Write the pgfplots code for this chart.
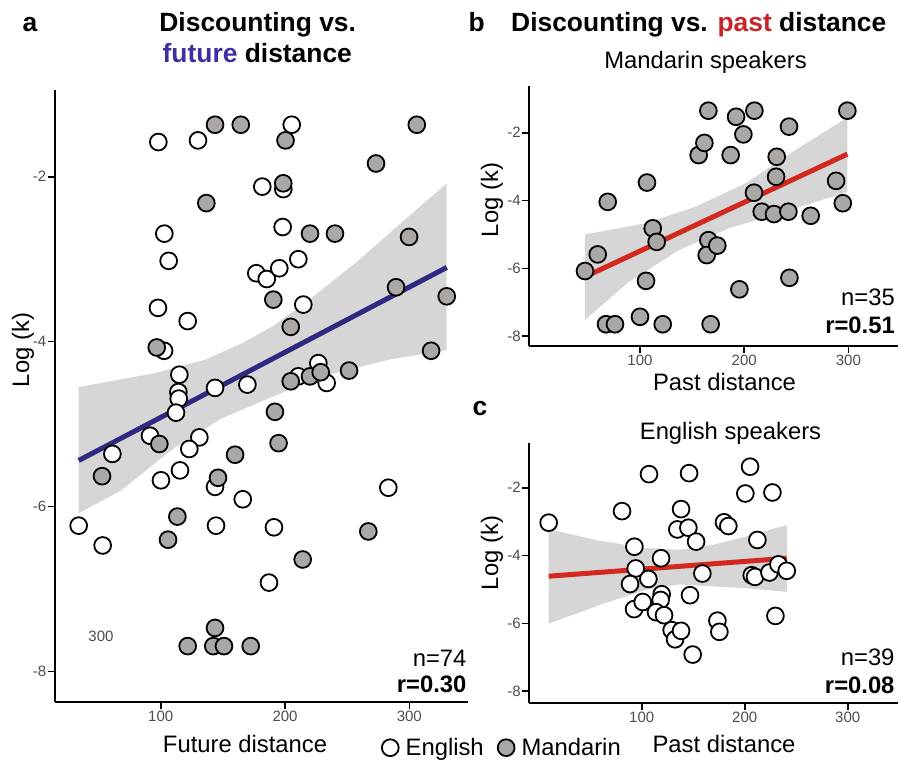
\documentclass[border=0pt]{standalone}
\usepackage{pgfplots}
\pgfplotsset{compat=1.18}
\usepackage{fontspec}
\setmainfont{Liberation Sans}

\definecolor{mgrey}{RGB}{170,167,164}
\definecolor{ribbon}{RGB}{153,153,153}
\definecolor{futblue}{RGB}{46,42,130}
\definecolor{futtext}{RGB}{60,48,160}
\definecolor{pastred}{RGB}{210,40,30}
\definecolor{pasttext}{RGB}{200,35,40}
\definecolor{ticklab}{RGB}{77,77,77}

\newcommand{\ticksize}{\fontsize{15}{18}\selectfont}
\newcommand{\labsize}{\fontsize{23.8}{28}\selectfont}
\newcommand{\titsize}{\fontsize{26.4}{31}\selectfont\bfseries}

\pgfplotsset{
  gg/.style={
    scale only axis, anchor=south west,
    axis x line*=bottom, axis y line*=left,
    axis line style={line width=2.2pt, -},
    tick align=outside, major tick length=7pt,
    tick style={line width=1.6pt, black},
    ticklabel style={font=\ticksize, text=ticklab},
    yticklabel style={inner sep=1.5pt},
    xticklabel style={inner sep=2pt},
    xtick={100,200,300}, xticklabels={100,200,300},
    ytick={-8,-6,-4,-2}, yticklabels={-8,-6,-4,-2},
    clip=false,
  },
  eng/.style={only marks, mark=*, mark size=8.4pt,
    mark options={fill=white, draw=black, line width=1.8pt}},
  man/.style={only marks, mark=*, mark size=8.4pt,
    mark options={fill=mgrey, draw=black, line width=1.8pt}},
  band/.style={draw=none, fill=ribbon, fill opacity=0.4, forget plot},
}

\begin{document}
\begin{tikzpicture}
\useasboundingbox (0pt,0pt) rectangle (902pt,-760pt);

% panel a: future distance, both groups
\begin{axis}[gg, at={(55pt,-701.7pt)}, width=413pt, height=611.7pt,
  xmin=14.96, xmax=347.2, ymin=-8.364, ymax=-0.949,
  legend style={at={(0.791,-0.0752)}, anchor=west, draw=none, fill=none,
    legend columns=2, font=\labsize, inner sep=0pt,
    /tikz/every odd column/.append style={column sep=5pt},
    /tikz/every even column/.append style={column sep=12pt}},
  legend image code/.code={\draw[mark repeat=2,mark phase=2,#1]
    plot coordinates {(0pt,0pt)(9.3pt,0pt)(18.6pt,0pt)};},
]
\addplot[eng] coordinates {
 (98.1,-1.58)(130.0,-1.56)(205.4,-1.37)(181.7,-2.12)(198.6,-2.15)(102.9,-2.69)
 (198.1,-2.61)(106.4,-3.02)(176.9,-3.17)(185.3,-3.24)(195.4,-3.11)(210.7,-3.00)
 (214.7,-3.55)(97.8,-3.59)(121.7,-3.75)(102.7,-4.11)(115.0,-4.40)(114.2,-4.61)
 (114.5,-4.69)(112.3,-4.86)(143.7,-4.56)(169.7,-4.52)(210.7,-4.42)(226.8,-4.26)
 (233.5,-4.50)(91.4,-5.14)(131.1,-5.16)(123.0,-5.30)(61.1,-5.36)(115.5,-5.56)
 (100.2,-5.68)(143.7,-5.76)(166.0,-5.91)(34.0,-6.23)(53.3,-6.47)(144.5,-6.23)
 (191.1,-6.25)(187.1,-6.92)(283.1,-5.77)};
\addlegendentry{English}
\addplot[man] coordinates {
 (143.7,-1.37)(164.4,-1.37)(200.4,-1.56)(198.6,-2.08)(136.7,-2.32)(190.6,-3.49)
 (96.8,-4.07)(204.6,-3.82)(204.6,-4.48)(191.9,-4.85)(306.0,-1.37)(273.2,-1.84)
 (220.1,-2.69)(240.2,-2.69)(299.8,-2.73)(289.3,-3.34)(330.1,-3.45)(317.5,-4.11)
 (220.1,-4.42)(228.7,-4.37)(251.5,-4.35)(98.9,-5.24)(52.8,-5.63)(159.8,-5.37)
 (146.1,-5.65)(194.8,-5.23)(113.4,-6.12)(105.9,-6.40)(214.2,-6.64)(143.7,-7.47)
 (121.7,-7.69)(142.3,-7.69)(150.9,-7.69)(172.4,-7.69)(267.0,-6.30)};
\addlegendentry{Mandarin}
\addplot[band] coordinates {
 (34,-4.55)(95.4,-4.38)(135.6,-4.22)(165.2,-4.02)(189.3,-3.82)(216.1,-3.53)
 (256.3,-3.05)(296.5,-2.52)(330.1,-2.08)
 (330.1,-4.10)(283.1,-4.22)(229.5,-4.42)(189.3,-4.67)(149.1,-4.93)(108.8,-5.31)
 (68.6,-5.80)(34,-6.08)} -- cycle;
\addplot[futblue, line width=5pt, forget plot] coordinates {(34,-5.44)(330.1,-3.10)};
\end{axis}

% panel b: past distance, Mandarin speakers
\begin{axis}[gg, at={(529.3pt,-345.7pt)}, width=368.7pt, height=259.7pt,
  xmin=-6.24, xmax=347.6, ymin=-8.283, ymax=-0.622]
\addplot[man] coordinates {
 (47.2,-6.08)(59.4,-5.59)(69.0,-4.04)(67.4,-7.65)(76.0,-7.65)(100,-7.43)
 (105.8,-6.37)(106.7,-3.47)(112.2,-4.82)(116,-5.22)(121.8,-7.65)(156.3,-2.66)
 (161.8,-2.30)(165.6,-1.35)(165.6,-5.17)(164,-5.61)(174.2,-5.33)(167.8,-7.65)
 (187,-2.66)(192.2,-1.53)(199.2,-2.05)(195.4,-6.62)(209.8,-1.35)(209.4,-3.77)
 (216.8,-4.33)(228.6,-4.40)(230.6,-3.30)(231.2,-2.71)(242.4,-4.33)(243,-1.82)
 (243.4,-6.28)(263.8,-4.45)(288.2,-3.42)(294.6,-4.08)(299,-1.35)};
\addplot[band] coordinates {
 (47.2,-5.00)(105.5,-4.67)(153.5,-4.18)(201.4,-3.49)(249.4,-2.51)(299,-1.55)
 (299,-3.75)(233.4,-4.38)(185.4,-4.82)(137.4,-5.46)(89.4,-6.40)(47.2,-7.52)} -- cycle;
\addplot[pastred, line width=5pt] coordinates {(47.2,-6.25)(299,-2.63)};
\end{axis}

% panel c: past distance, English speakers
\begin{axis}[gg, at={(529.3pt,-702.7pt)}, width=368.7pt, height=259.4pt,
  xmin=-9.1, xmax=348.8, ymin=-8.34, ymax=-0.69]
\addplot[eng] coordinates {
 (9.7,-3.03)(80.9,-2.69)(92.9,-3.74)(94.2,-4.38)(88.7,-4.84)(92.6,-5.58)
 (101,-5.37)(106.5,-4.69)(107.1,-1.60)(118.8,-4.08)(119.4,-5.14)(118.4,-5.31)
 (113.9,-5.67)(121.7,-5.76)(129.1,-6.20)(132.4,-6.47)(138.2,-6.22)(134.6,-3.23)
 (138.2,-2.63)(145.3,-3.18)(146,-1.57)(152.8,-3.59)(146.9,-5.17)(149.5,-6.92)
 (158.9,-4.53)(173.5,-5.92)(175.4,-6.25)(179.9,-3.02)(184.1,-3.13)(200.6,-2.17)
 (205.2,-1.38)(206.8,-4.58)(210,-4.63)(212.3,-3.54)(224,-4.50)(226.9,-2.14)
 (229.8,-5.78)(232.7,-4.26)(240.8,-4.45)};
\addplot[band] coordinates {
 (9.7,-3.22)(55.3,-3.54)(103.9,-3.78)(136.2,-3.83)(168.5,-3.69)(201,-3.44)(240.8,-3.10)
 (240.8,-5.07)(201,-4.96)(168.5,-4.91)(136.2,-4.85)(103.9,-5.01)(55.3,-5.50)(9.7,-6.01)} -- cycle;
\addplot[pastred, line width=5pt] coordinates {(9.7,-4.61)(240.8,-4.08)};
\end{axis}

% titles and labels
\node[anchor=base west, font=\titsize] at (19pt,-31.7pt) {a};
\node[anchor=base, font=\titsize] at (257.7pt,-31.7pt) {Discounting vs.};
\node[anchor=base, font=\titsize] at (257.3pt,-62.7pt) {\textcolor{futtext}{future} distance};
\node[anchor=base west, font=\titsize] at (465pt,-31.7pt) {b};
\node[anchor=base west, font=\titsize] at (507.7pt,-31.7pt) {Discounting vs. \textcolor{pasttext}{past} distance};
\node[anchor=base, font=\labsize] at (705.5pt,-68.3pt) {Mandarin speakers};
\node[anchor=base west, font=\titsize] at (469pt,-415pt) {c};
\node[anchor=base, font=\labsize] at (730.5pt,-439pt) {English speakers};

\node[rotate=90, font=\labsize] at (23pt,-350pt) {Log (k)};
\node[rotate=90, font=\labsize] at (492pt,-200pt) {Log (k)};
\node[rotate=90, font=\labsize] at (492pt,-553pt) {Log (k)};
\node[anchor=base, font=\labsize] at (245pt,-752.7pt) {Future distance};
\node[anchor=base, font=\labsize] at (724.5pt,-390pt) {Past distance};
\node[anchor=base, font=\labsize] at (724pt,-752.7pt) {Past distance};

\node[anchor=base east, font=\labsize] at (470pt,-666.5pt) {n=74};
\node[anchor=base east, font=\labsize\bfseries] at (470pt,-692.5pt) {r=0.30};
\node[anchor=base east, font=\labsize] at (898.3pt,-305pt) {n=35};
\node[anchor=base east, font=\labsize\bfseries] at (898.3pt,-333.3pt) {r=0.51};
\node[anchor=base east, font=\labsize] at (898pt,-665pt) {n=39};
\node[anchor=base east, font=\labsize\bfseries] at (898pt,-693.3pt) {r=0.08};
\node[font=\ticksize, text=ticklab] at (101pt,-636pt) {300};
\end{tikzpicture}
\end{document}
